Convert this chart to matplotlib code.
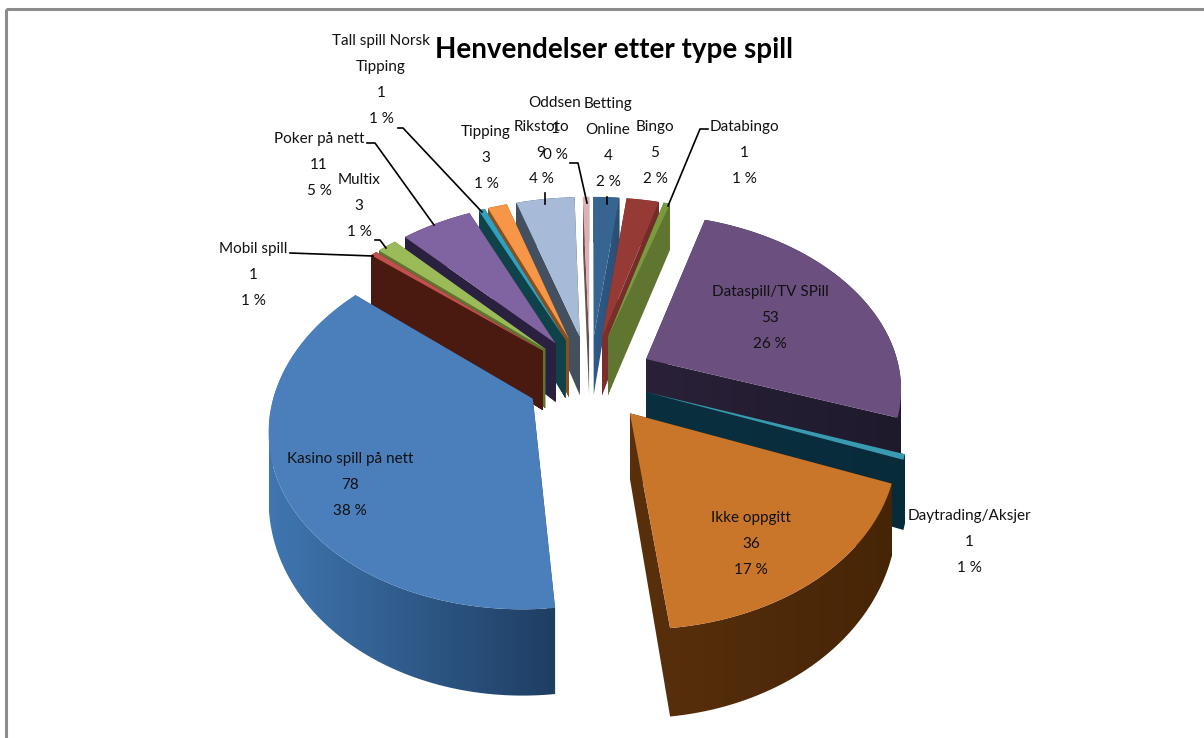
import numpy as np
import matplotlib
matplotlib.use('Agg')
import matplotlib.pyplot as plt
from matplotlib.path import Path
from matplotlib.patches import Rectangle, Polygon
from matplotlib.transforms import Transform
from matplotlib.colors import LinearSegmentedColormap

# data, clockwise from the top of the pie
names = ['Betting\nOnline', 'Bingo', 'Databingo', 'Dataspill/TV SPill', 'Daytrading/Aksjer',
         'Ikke oppgitt', 'Kasino spill på nett', 'Mobil spill', 'Multix', 'Poker på nett',
         'Tall spill Norsk\nTipping', 'Tipping', 'Rikstoto', 'Oddsen']
counts = [4, 5, 1, 53, 1, 36, 78, 1, 3, 11, 1, 3, 9, 1]
percents = [2, 2, 1, 26, 1, 17, 38, 1, 1, 5, 1, 1, 4, 0]

top_colors = ['#376592', '#953a35', '#7a9a3e', '#6b4f7f', '#3a9ab0', '#c9762a', '#4a7fbc',
              '#c0504d', '#9bbb59', '#8064a2', '#31a0bf', '#f79646', '#a7bbd8', '#e0b0b0']
wall_light = ['#2f5b88', '#7c2f2c', '#5f7530', '#2a2138', '#0a3040', '#5a300c', '#3f76b0',
              '#4a1a10', '#5f7530', '#2a2040', '#0f4249', '#8a4f1d', '#44505f', '#6b5050']
wall_dark = ['#2a4e74', '#732c2a', '#5f7530', '#1e1a2c', '#082b3a', '#462506', '#1f3e63',
             '#4a1a10', '#5f7530', '#2a2040', '#0f4249', '#8a4f1d', '#44505f', '#6b5050']
explode = [0.25, 0.25, 0.25, 0.25, 0.23, 0.25, 0.25, 0.25, 0.25, 0.25, 0.25, 0.25, 0.25, 0.25]

# label centres in pixels and leader lines
label_pos = [(608, 143), (655, 153), (744, 153), (770, 318), (969, 542),
             (751, 544), (350, 485), (253, 275), (359, 206), (319, 165),
             (381, 80), (486, 158), (541, 153), (555, 129)]
leaders = [[(607, 197), (607, 204)], None, [(708, 129), (700, 129), (668, 206)], None, None, None, None,
           [(290, 253), (373, 256)], [(375, 240), (380, 240), (386, 248)],
           [(367, 143), (375, 143), (434, 225)], [(398, 128), (403, 128), (482, 212)],
           None, [(545, 193), (545, 204)], [(570, 163), (578, 163), (587, 203)]]

CX, CY, R = 590, 378, 255
K, C = 0.15, 0.675
DEPTH = 62


class Persp(Transform):
    # takes the flat pie to the screen, z goes down the side wall
    input_dims = output_dims = 2

    def __init__(self, z=0.0):
        super().__init__()
        self.z = z

    def transform_non_affine(self, xy):
        xy = np.asarray(xy)
        w = 1 / (1 + K * xy[:, 1])
        sx = CX + R * xy[:, 0] * w
        sy = CY - R * C * xy[:, 1] * w + self.z * DEPTH * w ** 1.8
        return np.column_stack([sx, sy])


def outline(w):
    # the wedge the pie made, as a fine polygon
    t = np.deg2rad(np.linspace(w.theta1, w.theta2, 200))
    arc = np.column_stack([w.center[0] + w.r * np.cos(t), w.center[1] + w.r * np.sin(t)])
    return np.vstack([w.center, arc, w.center])


def wall_path(poly):
    # one quad per outline edge, all wound the same way so they fill as a union
    a = Persp(0).transform(poly)
    b = Persp(1).transform(poly)
    verts, codes = [], []
    for j in range(len(poly) - 1):
        quad = np.array([a[j], a[j + 1], b[j + 1], b[j]])
        x, y = quad[:, 0], quad[:, 1]
        area = np.sum(x * np.roll(y, -1) - np.roll(x, -1) * y)
        if area < 0:
            quad = quad[::-1]
        verts.extend(quad)
        verts.append(quad[0])
        codes.extend([Path.MOVETO, Path.LINETO, Path.LINETO, Path.LINETO, Path.CLOSEPOLY])
    return Path(np.array(verts), codes)


plt.rcParams['font.family'] = ['Lato', 'DejaVu Sans']
fig = plt.figure(figsize=(12.04, 7.38), dpi=100)
ax = fig.add_axes([0, 0, 1, 1])

wedges, _ = ax.pie(counts, startangle=90, counterclock=False, explode=explode,
                   colors=top_colors, radius=1)
ax.set_aspect('auto')
ax.set_frame_on(False)
ax.set_xticks([])
ax.set_yticks([])

# paint back slices first
mids = [np.sin(np.deg2rad((w.theta1 + w.theta2) / 2)) for w in wedges]
order = np.argsort(mids)[::-1]

for rank, i in enumerate(order):
    w = wedges[i]
    poly = outline(w)
    wall = wall_path(poly)
    x0, x1 = wall.vertices[:, 0].min(), wall.vertices[:, 0].max()
    y0, y1 = wall.vertices[:, 1].min(), wall.vertices[:, 1].max()
    cmap = LinearSegmentedColormap.from_list('w', [wall_light[i], wall_dark[i]])
    im = ax.imshow(np.linspace(0, 1, 64).reshape(1, -1), extent=(x0, x1, y1, y0), cmap=cmap,
                   aspect='auto', zorder=2 + rank, interpolation='bilinear')
    im.set_clip_path(wall, transform=ax.transData)
    ax.add_patch(Polygon(Persp(0).transform(poly), closed=True, fc=top_colors[i], lw=0, zorder=2.5 + rank))
    w.set_visible(False)
ax.set_xlim(0, 1204)
ax.set_ylim(738, 0)

# frame of the pasted picture
ax.add_patch(Rectangle((5.5, 8.5), 1300, 800, fill=False, ec='#8c8c8c', lw=2.2, zorder=1))

TOP = 50
for i, name in enumerate(names):
    x, y = label_pos[i]
    txt = f'{name}\n{counts[i]}\n{percents[i]} %'
    ax.text(x, y, txt, ha='center', va='center', fontsize=11, color='#111111',
            linespacing=2.11, zorder=TOP)
    if leaders[i]:
        ax.plot(*zip(*leaders[i]), color='black', lw=1.2, zorder=TOP)

ax.text(614, 50, 'Henvendelser etter type spill', ha='center', va='center',
        fontsize=20, fontweight='bold', color='black', zorder=TOP)

fig.savefig('out.png', dpi=100)
